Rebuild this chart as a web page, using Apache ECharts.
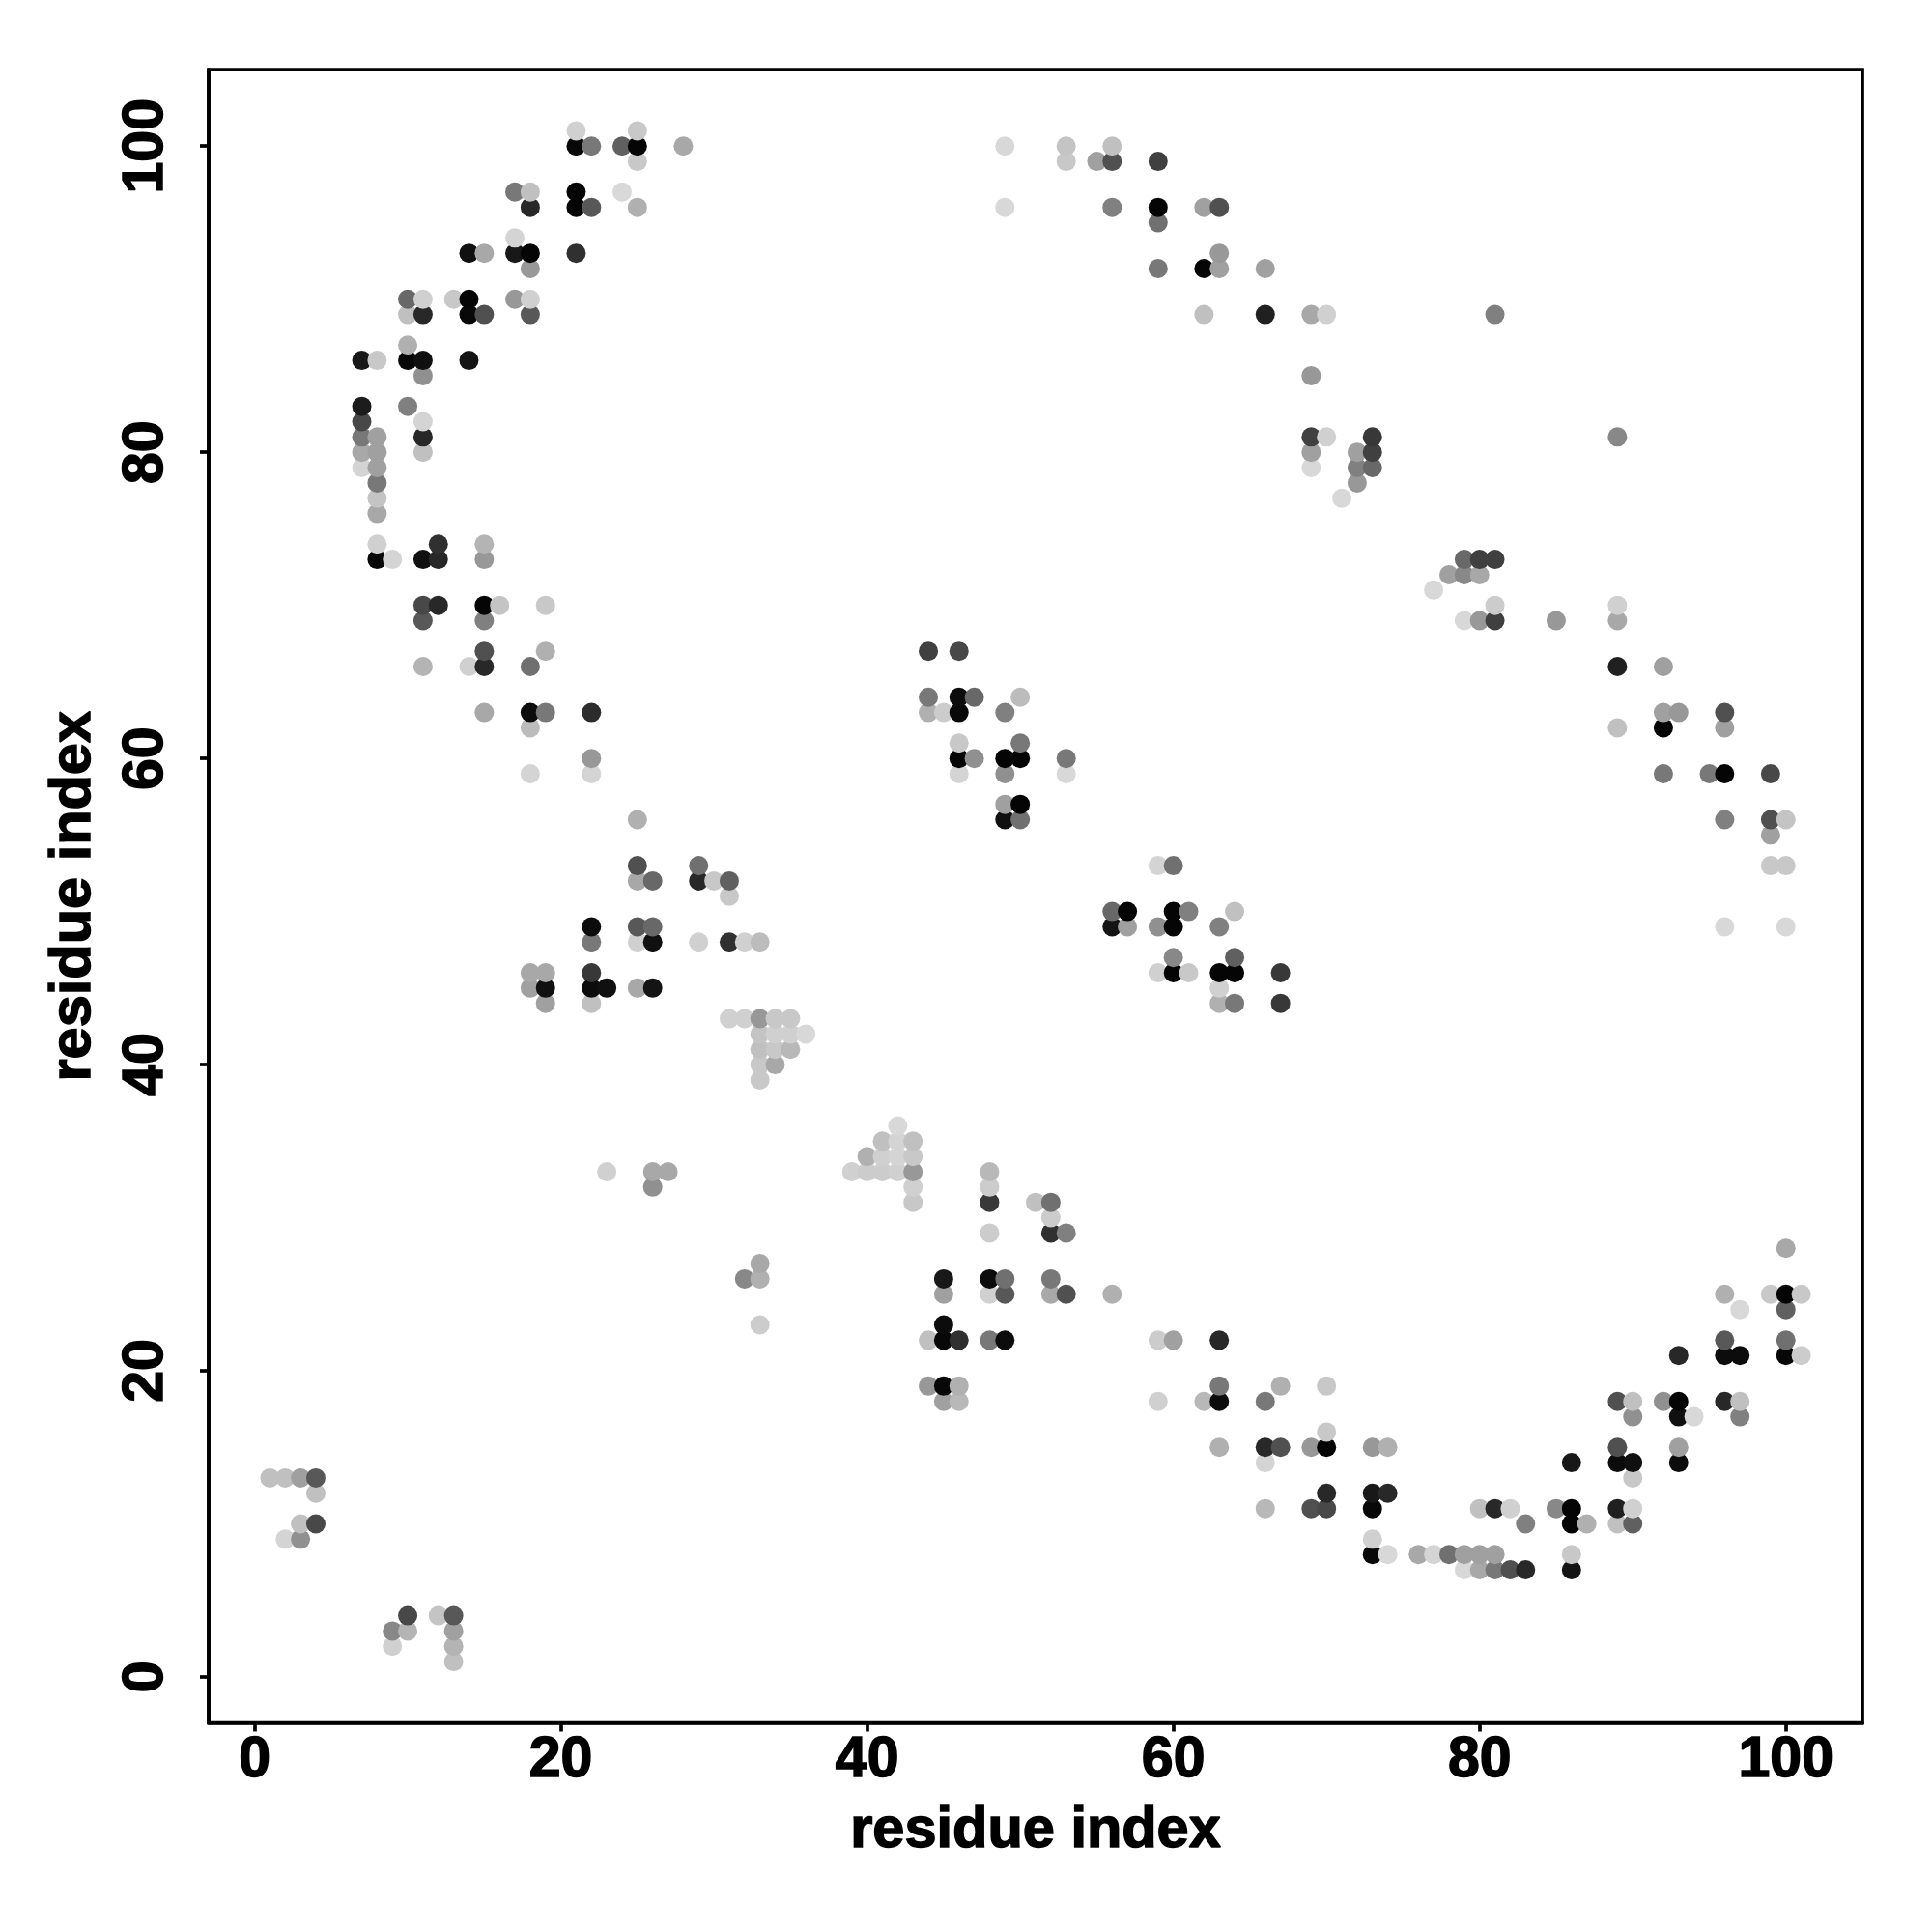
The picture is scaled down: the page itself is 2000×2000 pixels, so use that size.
<!DOCTYPE html>
<html><head><meta charset="utf-8">
<style>html,body{margin:0;padding:0;background:#fff}#c{width:2000px;height:2000px}</style>
<script src="https://cdn.jsdelivr.net/npm/echarts@6/dist/echarts.min.js"></script>
</head><body><div id="c"></div>
<script>
const tickLabels = [0,20,40,60,80,100];
const rowY = [101,100,99,97,96,95,94,93,92,90,89,87,86,85,83,82,81,80,79,78,77,76,74,73,72,71,70,69,67,66,64,63,62,61,60,59,57,56,55,53,52,51,50,49,48,47,46,45,44,43,42,41,40,39,36,35,34,33,32,31,30,29,28,27,26,25,24,23,22,21,19,18,17,16,15,14,13,12,11,10,9,8,7,4,3,2,1];
const rowX = [
[21,25],
[21,22,24,25,28,49,53,56],
[25,53,55,56,59],
[17,18,21,24],
[18,21,22,25,49,56,59,62,63],
[59],
[17],
[14,15,17,18,21,63],
[18,59,62,63,66],
[10,11,13,14,17,18],
[10,11,14,15,18,62,66,69,70,81],
[10],
[7,8,10,11,14],
[11,69],
[7,10],
[7,11],
[7,8,11,69,70,73,89],
[7,8,11,69,72,73],
[7,8,69,72,73],
[8,72],
[8,71],
[8],
[8,12,15],
[8,9,11,12,15,79,80,81],
[78,79,80],
[77],
[11,12,15,16,19,81,89],
[11,15,79,80,81,85,89],
[15,19,44,46],
[11,14,15,18,89,92],
[44,46,47,50],
[15,18,19,22,44,45,46,49,92,93,96],
[18,89,92,96],
[46,50],
[22,46,47,49,50,53],
[18,22,46,49,53,92,95,96,99],
[49,50],
[25,49,50,96,99,100],
[99],
[25,29,59,60,99,100],
[25,26,29,30,31],
[31],
[56,57,60,61,64],
[22,25,26,56,57,59,60,63,96,100],
[22,25,26,29,31,32,33],
[60,64],
[18,19,22,59,60,61,63,64,67],
[18,19,22,23,25,26,63],
[19,22,63,64,67],
[31,32,33,34,35],
[33,34,35,36],
[33,34,35],
[33,34],
[33],
[42],
[41,42,43],
[40,41,42,43],
[23,26,27,39,40,41,42,43,48],
[26,43,48],
[43,48,51,52],
[52],
[48,52,53],
[100],
[33],
[32,33,45,48,49,52],
[45,48,49,52,53,56,96,99,100,101],
[97,100],
[33,45],
[44,45,46,48,49,59,60,63,96,100],
[93,96,97,100,101],
[44,45,46,63,67,70],
[45,46,59,62,63,66,89,90,92,93,96,97],
[90,93,94,97],
[70],
[63,66,67,69,70,73,74,89,93],
[66,86,89,90,93],
[1,2,3,4,90],
[4,70,73,74],
[66,69,70,73,80,81,82,85,86,89,90],
[3,4,83,86,87,89,90],
[2,3,73],
[73,74,76,77,78,79,80,81,86],
[79,80,81,82,83,86],
[10,12,13],
[9,10,13],
[9,13],
[13]
];
const rowGrey = [
[0xd0,0xc8],
[0x08,0x78,0x60,0x05,0xa8,0xd8,0xc4,0xc0],
[0xc8,0xc8,0xa0,0x50,0x40],
[0x78,0xc0,0x05,0xd8],
[0x28,0x05,0x58,0xb0,0xd8,0x80,0x05,0xa0,0x50],
[0x70],
[0xd4],
[0x10,0xa8,0x18,0x05,0x30,0x98],
[0x98,0x78,0x05,0xa0,0xa0],
[0x68,0xd0,0xc8,0x05,0x98,0xd0],
[0xc0,0x28,0x08,0x50,0x58,0xc0,0x20,0xa8,0xd0,0x80],
[0xb0],
[0x18,0xc8,0x08,0x10,0x14],
[0x90,0x98],
[0x1c,0x80],
[0x48,0xd4],
[0x78,0xa0,0x28,0x40,0xd0,0x38,0x88],
[0xa8,0xa0,0xc0,0xa0,0xa0,0x40],
[0xd4,0xa0,0xd8,0x80,0x68],
[0x78,0x98],
[0xc4,0xd8],
[0xa8],
[0xd0,0x30,0xb4],
[0x08,0xd4,0x10,0x28,0x98,0x68,0x40,0x40],
[0xa0,0x88,0xa8],
[0xd8],
[0x48,0x28,0x05,0xc4,0xc8,0xcc,0xd0],
[0x58,0x80,0xd8,0x98,0x40,0x98,0xa8],
[0x50,0xb0,0x40,0x48],
[0xb4,0xd0,0x28,0x70,0x20,0xa0],
[0x78,0x0c,0x68,0xbc],
[0xa8,0x0c,0x78,0x2c,0xb0,0xcc,0x08,0x80,0xa0,0x98,0x50],
[0xbc,0xc0,0x05,0xa0],
[0xc8,0x78],
[0x98,0x05,0x90,0x05,0x05,0x78],
[0xd4,0xd4,0xd4,0x90,0xd8,0x78,0x78,0x05,0x48],
[0xa0,0x05],
[0xb0,0x10,0x70,0x80,0x50,0xc4],
[0xa0],
[0x50,0x70,0xd4,0x70,0xc8,0xc8],
[0xa8,0x68,0x28,0xc8,0x60],
[0xc8],
[0x68,0x05,0x05,0x80,0xc0],
[0x0c,0x58,0x68,0x14,0xa0,0x90,0x05,0x80,0xd8,0xd8],
[0x78,0xd0,0x10,0xd0,0x30,0xd0,0xbc],
[0x88,0x60],
[0xa8,0xa8,0x38,0xd0,0x05,0xc8,0x05,0x05,0x38],
[0xa0,0x10,0x0c,0x10,0xa8,0x14,0xd0],
[0xa0,0xc0,0xb0,0x78,0x38],
[0xd0,0xd0,0x98,0xc8,0xc8],
[0xc4,0xd0,0xd0,0xd8],
[0xc0,0xc8,0xb8],
[0xc8,0xa8],
[0xc8],
[0xd8],
[0xc0,0xd4,0xc0],
[0xb0,0xd0,0xd4,0xc8],
[0xd0,0xa8,0xa8,0xd0,0xcc,0xcc,0xd0,0x98,0xb8],
[0x90,0xd0,0xcc],
[0xc8,0x38,0xc0,0x70],
[0xcc],
[0xcc,0x30,0x80],
[0xa8],
[0xa8],
[0x88,0xb0,0x18,0x0c,0x70,0x78],
[0xa0,0xd0,0x58,0xa8,0x50,0xb0,0xb0,0xc8,0x05,0xc8],
[0xd8,0x60],
[0xcc,0x0c],
[0xc0,0x08,0x30,0x78,0x0c,0xcc,0xa0,0x28,0x58,0x70],
[0x28,0x0c,0x0c,0x08,0xcc],
[0x98,0x08,0xb0,0x78,0xb0,0xc8],
[0xa0,0xb8,0xd0,0xb8,0x0c,0x78,0x50,0xc0,0x90,0x05,0x28,0xc0],
[0x90,0x10,0xd8,0x80],
[0xc8],
[0xb0,0x28,0x50,0x98,0x05,0x98,0xb0,0x50,0xa0],
[0xd4,0x18,0x0c,0x10,0x0c],
[0xc0,0xc0,0xa0,0x58,0xc8],
[0xc0,0x28,0x18,0x28],
[0xb8,0x50,0x48,0x08,0xc0,0x28,0xd0,0x88,0x05,0x20,0xd0],
[0xc0,0x48,0x80,0x05,0xb0,0xc0,0x60],
[0xd4,0x90,0xd0],
[0x08,0xd8,0xa8,0xd4,0x70,0xa0,0xa0,0xa0,0xc8],
[0xd8,0xa8,0x78,0x50,0x28,0x14],
[0x48,0xc4,0x58],
[0x88,0xb4,0xa0],
[0xd0,0xb4],
[0xc0]
];
const axisTitle = "residue index";
const fontFamily = "'Liberation Sans', Arial, sans-serif";

const points = [];
rowY.forEach((y,i)=>rowX[i].forEach((x,j)=>points.push([x,y,rowGrey[i][j]])));
points.sort((a,b)=>a[0]-b[0]||a[1]-b[1]);

const mkAxis = (nameGap, rotate, labelMargin) => ({
  type:'value', min:-3, max:105,
  name:axisTitle, nameLocation:'middle', nameGap,
  nameTextStyle:{fontFamily,fontWeight:'bold',fontSize:59.5,color:'#000',textBorderColor:'#000',textBorderWidth:1.5},
  splitLine:{show:false},
  axisLine:{show:true,onZero:false,lineStyle:{color:'#000',width:3.7}},
  axisTick:{show:true,inside:false,length:9,lineStyle:{color:'#000',width:3.7},customValues:tickLabels},
  axisLabel:{show:true,rotate,margin:labelMargin,fontFamily,fontWeight:'bold',fontSize:59,color:'#000',textBorderColor:'#000',textBorderWidth:1.5,customValues:tickLabels,hideOverlap:false}
});

const chart = echarts.init(document.getElementById('c'),null,{renderer:'canvas',width:2000,height:2000});
chart.setOption({
  animation:false,
  backgroundColor:'#fff',
  grid:{left:216,top:72,width:1712,height:1711.5,show:true,borderColor:'#000',borderWidth:3.7,backgroundColor:'transparent'},
  xAxis:mkAxis(82,0,10),
  yAxis:mkAxis(109,90,35),
  series:[{
    type:'scatter',
    symbol:'circle',
    symbolSize:20,
    itemStyle:{opacity:1},
    data:points.map(p=>({value:[p[0],p[1]],itemStyle:{opacity:1,color:`rgb(${p[2]},${p[2]},${p[2]})`}})),
    silent:true
  }]
});
</script></body></html>
